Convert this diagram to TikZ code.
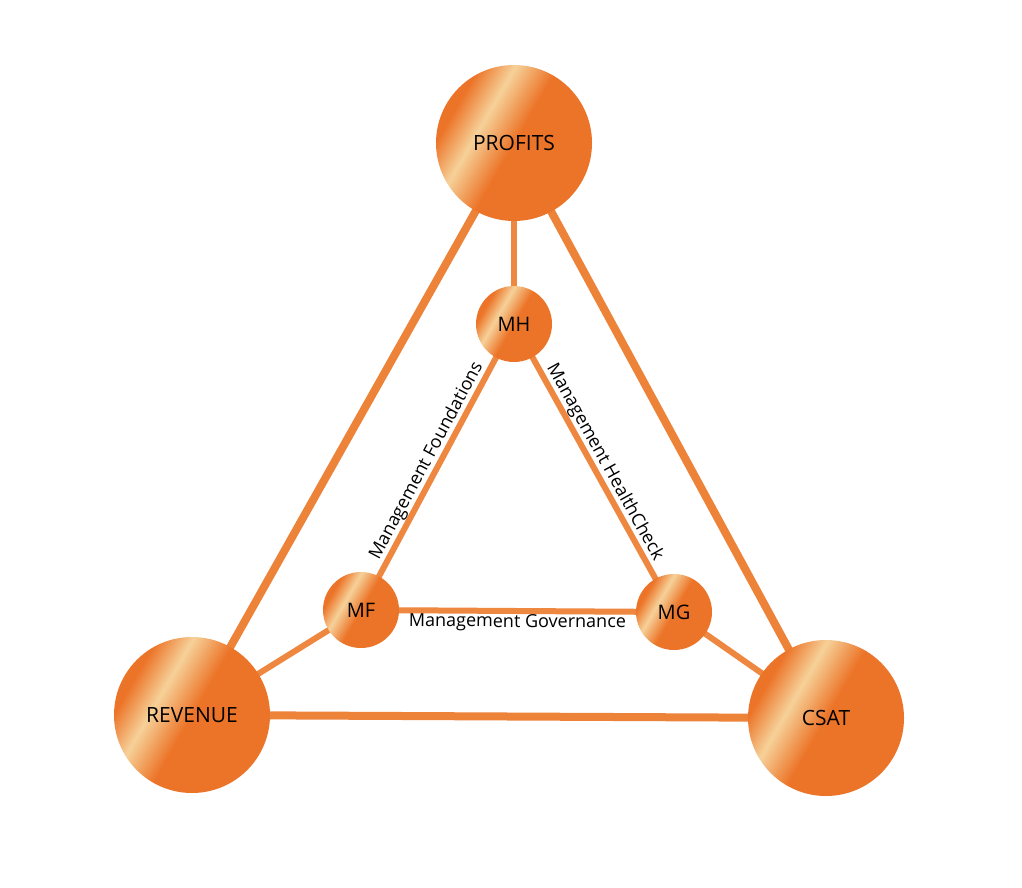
\documentclass[tikz,border=0pt]{standalone}
\usepackage{fontspec}
\setmainfont{Open Sans}
\definecolor{org}{HTML}{EC7428}
\definecolor{lgt}{HTML}{F6D199}
\pgfdeclarehorizontalshading{ball}{100bp}{color(0bp)=(org); color(28bp)=(org); color(38bp)=(lgt); color(50bp)=(org); color(100bp)=(org)}
\begin{document}
\begin{tikzpicture}[x=1pt,y=-1pt,
  big/.style={circle,minimum size=156pt,shading=ball,shading angle=-30,inner sep=0pt,font=\fontsize{21}{23}\selectfont},
  small/.style={circle,minimum size=76pt,shading=ball,shading angle=-30,inner sep=0pt,font=\fontsize{20}{22}\selectfont},
  outer/.style={line width=8pt,draw=org!85!lgt},
  inner/.style={line width=6pt,draw=org!80!lgt},
  lab/.style={font=\fontsize{18}{20}\selectfont,sloped,inner sep=3pt}]
\useasboundingbox (0,0) rectangle (1022,888);
\fill[white] (0,0) rectangle (1022,888);
\coordinate (p) at (514,143);
\coordinate (r) at (192,715);
\coordinate (c) at (826,718);
\coordinate (h) at (514,324);
\coordinate (f) at (361,610);
\coordinate (g) at (674,612);
\draw[outer] (p) -- (r);
\draw[outer] (p) -- (c);
\draw[outer] (r) -- (c);
\draw[inner] (p) -- (h);
\draw[inner] (r) -- (f);
\draw[inner] (c) -- (g);
\draw[inner] (f) -- (h);
\draw[inner] (h) -- (g);
\draw[inner] (f) -- (g);
\node[big] (P) at (p) {PROFITS};
\node[big] (R) at (r) {REVENUE};
\node[big] (C) at (c) {CSAT};
\node[small] (H) at (h) {MH};
\node[small] (F) at (f) {MF};
\node[small] (G) at (g) {MG};
\path (F) -- node[lab,above] {Management Foundations} (H);
\path (H) -- node[lab,above] {Management HealthCheck} (G);
\path (F) -- node[lab,below] {Management Governance} (G);
\end{tikzpicture}
\end{document}
